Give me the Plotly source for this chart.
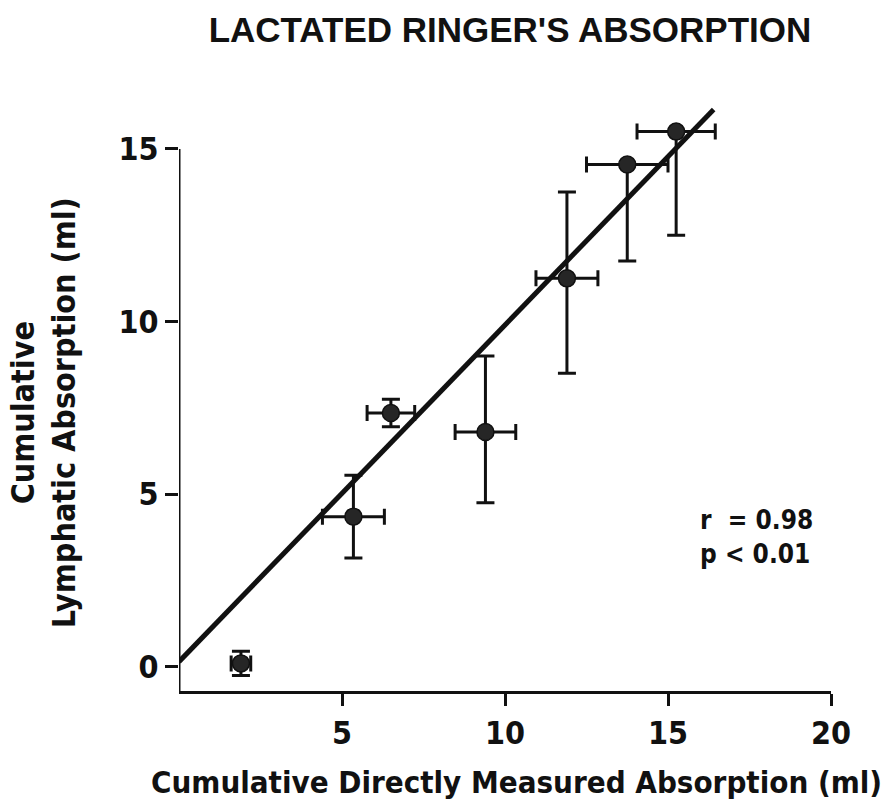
import plotly.graph_objects as go

# Cumulative absorption per time point (ml)
direct_ml = [1.9, 5.35, 6.5, 9.4, 11.9, 13.75, 15.25]
direct_err = [0.3, 0.95, 0.73, 0.93, 0.95, 1.25, 1.2]
lymph_ml = [0.1, 4.35, 7.35, 6.8, 11.25, 14.55, 15.5]
lymph_err_plus = [0.35, 1.2, 0.4, 2.2, 2.5, 0.0, 0.0]
lymph_err_minus = [0.35, 1.2, 0.4, 2.05, 2.75, 2.8, 3.0]

# Least-squares fit line
fit_intercept = 0.15
fit_slope = 0.975
fit_x = [0.0, 16.4]
fit_y = [fit_intercept + fit_slope * v for v in fit_x]

x_ticks = [5, 10, 15, 20]
y_ticks = [0, 5, 10, 15]

FONT = "Liberation Sans Narrow, Arial Narrow, DejaVu Sans Condensed, sans-serif"
INK = "#111111"

fig = go.Figure()

fig.add_trace(go.Scatter(
    x=fit_x, y=fit_y, mode="lines",
    line=dict(color=INK, width=5),
    hoverinfo="skip", showlegend=False,
))

fig.add_trace(go.Scatter(
    x=direct_ml, y=lymph_ml, mode="markers",
    marker=dict(size=17, color="#262626", line=dict(color=INK, width=1.5)),
    error_x=dict(type="data", array=direct_err, symmetric=True,
                 color=INK, thickness=3, width=8),
    error_y=dict(type="data", array=lymph_err_plus, arrayminus=lymph_err_minus,
                 symmetric=False, color=INK, thickness=3, width=9),
    showlegend=False,
))

# Vertical axis line stops at the top tick
fig.add_shape(type="line", xref="x", yref="y", x0=0, x1=0, y0=-0.7, y1=15,
              line=dict(color=INK, width=3))

# Correlation statistics
fig.add_annotation(x=0.975, y=0.262, xref="paper", yref="paper",
                   text="r  = 0.98<br>p < 0.01", showarrow=False,
                   xanchor="right", yanchor="middle", align="left",
                   font=dict(family=FONT, size=26, color=INK, weight="bold"))

# Axis titles
fig.add_annotation(x=0.517, y=-0.155, xref="paper", yref="paper",
                   text="Cumulative Directly Measured Absorption (ml)",
                   showarrow=False, xanchor="center", yanchor="middle",
                   font=dict(family=FONT, size=31, color=INK, weight="bold"))
fig.add_annotation(x=-0.208, y=0.474, xref="paper", yref="paper",
                   text="Cumulative<br>Lymphatic Absorption (ml)",
                   textangle=-90, showarrow=False,
                   xanchor="center", yanchor="middle",
                   font=dict(family=FONT, size=32, color=INK, weight="bold"))

fig.update_layout(
    width=890, height=811,
    margin=dict(l=179, r=59, t=104, b=120),
    paper_bgcolor="white", plot_bgcolor="white",
    font=dict(family=FONT, color=INK),
    title=dict(text="LACTATED RINGER'S ABSORPTION", x=0.573, xanchor="center",
               y=0.963, yanchor="middle", yref="container",
               font=dict(family="Liberation Sans, Arial, sans-serif", size=35,
                         weight="bold", color=INK)),
    xaxis=dict(range=[0, 20], tickvals=x_ticks, ticks="outside", ticklen=12,
               tickwidth=3, tickcolor=INK, showline=True, linecolor=INK,
               linewidth=3, showgrid=False, zeroline=False,
               tickfont=dict(family=FONT, size=32, weight="bold")),
    yaxis=dict(range=[-0.7, 16.3], tickvals=y_ticks, ticks="outside", ticklen=13,
               tickwidth=3, tickcolor=INK, showline=False, showgrid=False,
               zeroline=False,
               tickfont=dict(family=FONT, size=32, weight="bold")),
)

fig.write_html("out.html")
